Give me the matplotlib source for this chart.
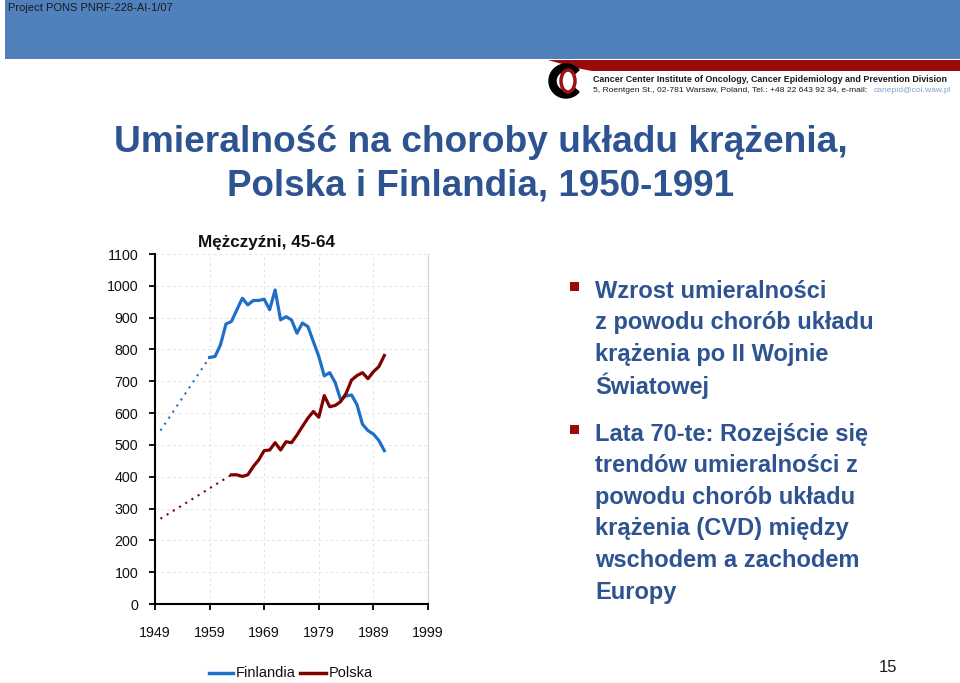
import numpy as np
import matplotlib
matplotlib.use('Agg')
import matplotlib.pyplot as plt
from matplotlib.patches import Rectangle, Polygon, Ellipse, Wedge

# data
fin_years = list(range(1959, 1992))
fin_vals = [775, 778, 815, 880, 888, 925, 961, 940, 954, 954, 958, 925, 987, 893, 903,
            893, 851, 883, 872, 825, 778, 717, 727, 696, 642, 654, 657, 626, 565, 545,
            534, 514, 482]
pol_years = list(range(1963, 1992))
pol_vals = [406, 406, 401, 406, 432, 453, 482, 484, 507, 484, 510, 507, 531, 558, 584,
            605, 587, 655, 620, 624, 636, 662, 704, 718, 727, 708, 730, 746, 781]
# dotted extrapolation back to 1950
fin_dot_years = [1950, 1959]
fin_dot_vals = [545, 775]
pol_dot_years = [1950, 1963]
pol_dot_vals = [268, 406]

xticks = [1949, 1959, 1969, 1979, 1989, 1999]
yticks = list(range(0, 1101, 100))

BLUE = '#1f6fc6'
RED = '#800000'
TXT = '#2d5391'
SANS = ['Liberation Sans', 'DejaVu Sans']

fig = plt.figure(figsize=(9.6, 6.83), dpi=100)

# slide background in pixel coords
bg = fig.add_axes([0, 0, 1, 1], zorder=0)
bg.set_xlim(0, 960)
bg.set_ylim(683, 0)
bg.axis('off')

bg.add_patch(Rectangle((5, 0), 955, 59, color='#5181bd', lw=0))
bg.add_patch(Polygon([(548, 60), (960, 60), (960, 71), (592, 71), (576, 68), (562, 64)],
                     closed=True, color='#9b0a0a', lw=0))
bg.text(8, 8, 'Project PONS PNRF-228-AI-1/07', fontsize=8, color='#1a1a1a',
        family=SANS, va='center', ha='left')

# logo
bg.add_patch(Wedge((566, 81), 17, 40, 320, width=7, color='black'))
bg.add_patch(Ellipse((568, 81), 14, 22, fc='white', ec='#a01010', lw=2.5))
bg.text(593, 79, 'Cancer Center Institute of Oncology, Cancer Epidemiology and Prevention Division',
        fontsize=6.4, weight='bold', color='#1a1a1a', family=SANS, va='center')
bg.text(593, 90, '5, Roentgen St., 02-781 Warsaw, Poland, Tel.: +48 22 643 92 34, e-mail:',
        fontsize=6.1, color='#1a1a1a', family=SANS, va='center')
bg.text(874, 90, 'canepid@coi.waw.pl', fontsize=6.1, color='#7fa3cf', family=SANS, va='center')

# title
bg.text(481, 143, 'Umieralność na choroby układu krążenia,', fontsize=26.7, weight='bold',
        color=TXT, family=SANS, ha='center', va='center')
bg.text(481, 186, 'Polska i Finlandia, 1950-1991', fontsize=26.5, weight='bold',
        color=TXT, family=SANS, ha='center', va='center')

# bullets
bullets = [
    (291, ['Wzrost umieralności', 'z powodu chorób układu', 'krążenia po II Wojnie', 'Światowej']),
    (434, ['Lata 70-te: Rozejście się', 'trendów umieralności z', 'powodu chorób układu',
           'krążenia (CVD) między', 'wschodem a zachodem', 'Europy']),
]
for y0, lines in bullets:
    bg.add_patch(Rectangle((570, y0 - 9), 9, 9, color='#9b0a0a', lw=0))
    for i, line in enumerate(lines):
        bg.text(595, y0 + i * 31.6, line, fontsize=17, weight='bold', color=TXT,
                family=SANS, va='center', ha='left')

bg.text(888, 668, '15', fontsize=12, color='#1a1a1a', family=SANS, ha='center', va='center')

# legend drawn by hand under the chart
bg.plot([209, 233], [673, 673], color=BLUE, lw=2.5)
bg.text(236, 673, 'Finlandia', fontsize=10.5, color='#111111', family=SANS, va='center')
bg.plot([300, 326], [673, 673], color=RED, lw=2.5)
bg.text(329, 673, 'Polska', fontsize=10.5, color='#111111', family=SANS, va='center')

# chart title placed as on the slide
bg.text(267, 242, 'Mężczyźni, 45-64', fontsize=12.3, weight='bold', family=SANS,
        color='#111111', ha='center', va='center')

# chart
ax = fig.add_axes([155 / 960, 79 / 683, 273 / 960, 350 / 683], zorder=1)
ax.patch.set_alpha(0)
ax.plot(fin_dot_years, fin_dot_vals, color=BLUE, lw=1.5, ls=(0, (1, 2.5)))
ax.plot(pol_dot_years, pol_dot_vals, color=RED, lw=1.5, ls=(0, (1, 2.5)))
ax.plot(fin_years, fin_vals, color=BLUE, lw=2.3)
ax.plot(pol_years, pol_vals, color=RED, lw=2.3)

ax.set_xlim(1949, 1999)
ax.set_ylim(0, 1100)
ax.set_xticks(xticks)
ax.set_yticks(yticks)
ax.grid(True, color='#e4e4e4', ls=(0, (3, 3)), lw=0.7)
ax.spines['top'].set_visible(False)
ax.spines['right'].set_color('#d0d0d0')
ax.spines['right'].set_linewidth(0.8)
for s in ['left', 'bottom']:
    ax.spines[s].set_color('black')
    ax.spines[s].set_linewidth(1.5)
ax.tick_params(direction='out', length=4, width=1.3, color='black')
ax.tick_params(axis='x', pad=12)
ax.tick_params(axis='y', pad=8)
for lab in ax.get_xticklabels() + ax.get_yticklabels():
    lab.set_family(SANS)
    lab.set_fontsize(10.3)
    lab.set_color('#111111')

fig.savefig('out.png', dpi=100)
